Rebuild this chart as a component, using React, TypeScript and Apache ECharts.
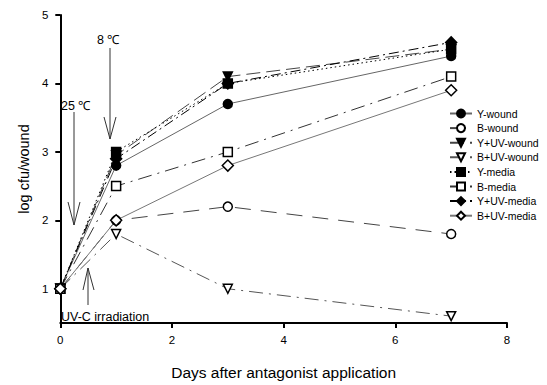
import React, { useEffect, useRef } from "react";
import * as echarts from "echarts";

const days = [0, 1, 3, 7];
const seriesNames = ["Y-wound", "B-wound", "Y+UV-wound", "B+UV-wound", "Y-media", "B-media", "Y+UV-media", "B+UV-media"];
const yWound = [1, 2.8, 3.7, 4.4];
const bWound = [1, 2.0, 2.2, 1.8];
const yUvWound = [1, 2.95, 4.1, 4.5];
const bUvWound = [1, 1.8, 1.0, 0.6];
const yMedia = [1, 3.0, 4.0, 4.5];
const bMedia = [1, 2.5, 3.0, 4.1];
const yUvMedia = [1, 2.9, 4.0, 4.6];
const bUvMedia = [1, 2.0, 2.8, 3.9];
const yTicks = [1, 2, 3, 4, 5];

const FONT = "Liberation Sans, Arial, sans-serif";
// page is offset by the 8px body margin
const O = 8;

export default function App() {
  const ref = useRef<HTMLDivElement>(null);
  useEffect(() => {
    const chart = echarts.init(ref.current!, null, { renderer: "svg" });
    const mk = (
      name: string,
      vals: number[],
      symbol: string,
      filled: boolean,
      lineType: any,
      lineColor: string,
      rotate = 0,
      size = 9
    ) => ({
      name,
      type: "line",
      data: days.map((d, i) => [d, vals[i]]),
      symbol,
      symbolSize: size,
      symbolRotate: rotate,
      showAllSymbol: true,
      itemStyle: {
        color: filled ? "#000" : "#fff",
        borderColor: "#000",
        borderWidth: 1.5,
      },
      lineStyle: { color: lineColor, width: 1, type: lineType },
      emphasis: { disabled: true },
    });
    const series = [
      mk(seriesNames[0], yWound, "circle", true, "solid", "#666"),
      mk(seriesNames[1], bWound, "circle", false, [16, 10], "#444"),
      mk(seriesNames[2], yUvWound, "triangle", true, [14, 6], "#444", 180),
      mk(seriesNames[3], bUvWound, "triangle", false, [14, 6, 2, 6], "#555", 180),
      mk(seriesNames[4], yMedia, "rect", true, [1.5, 3], "#000"),
      mk(seriesNames[5], bMedia, "rect", false, [14, 6, 2, 6], "#333"),
      mk(seriesNames[6], yUvMedia, "diamond", true, [10, 4, 2, 4], "#000", 0, 11),
      mk(seriesNames[7], bUvMedia, "diamond", false, "solid", "#777", 0, 11),
    ];
    const lineStyle = { stroke: "#333", lineWidth: 1 };
    const P = (x: number, y: number) => [x - O, y - O];
    chart.setOption({
      animation: false,
      textStyle: { fontFamily: FONT },
      grid: { left: 47, right: 40, top: 7, bottom: 53, containLabel: false },
      xAxis: {
        type: "value",
        min: 0,
        max: 8,
        interval: 2,
        name: "Days after antagonist application",
        nameLocation: "middle",
        nameGap: 41,
        nameTextStyle: { fontSize: 15.5, color: "#000", fontFamily: FONT },
        axisLine: { lineStyle: { color: "#000", width: 2 } },
        axisTick: { show: true, length: 5, lineStyle: { color: "#000", width: 2 } },
        axisLabel: { fontSize: 11.5, color: "#000", margin: 11, fontFamily: FONT },
        splitLine: { show: false },
      },
      yAxis: {
        type: "value",
        min: 0.5,
        max: 5,
        name: "log cfu/wound",
        nameLocation: "middle",
        nameGap: 28,
        nameRotate: 90,
        nameTextStyle: { fontSize: 14.5, color: "#000", fontFamily: FONT },
        axisLine: { show: true, lineStyle: { color: "#000", width: 2 } },
        axisTick: { show: true, length: 5, customValues: yTicks, lineStyle: { color: "#000", width: 2 } },
        axisLabel: { fontSize: 11.5, color: "#000", margin: 12, customValues: yTicks, fontFamily: FONT },
        splitLine: { show: false },
      },
      legend: {
        orient: "vertical",
        left: 444 - O,
        top: 95,
        padding: [5, 0, 5, 5],
        itemWidth: 22,
        itemHeight: 10,
        itemGap: 3.6,
        data: seriesNames,
        textStyle: { fontSize: 10.5, color: "#000", fontFamily: FONT, overflow: "none" },
        selectedMode: false,
      },
      graphic: [
        { type: "text", x: 97 - O, y: 40 - O, style: { text: "8 ℃", font: `12.5px ${FONT}`, fill: "#000", verticalAlign: "middle" } },
        { type: "line", shape: { x1: 110 - O, y1: 48 - O, x2: 110 - O, y2: 139 - O }, style: lineStyle },
        { type: "polyline", shape: { points: [P(104, 117), P(110, 139), P(116, 117)] }, style: { ...lineStyle, fill: null } },
        { type: "text", x: 61 - O, y: 106 - O, style: { text: "25 ℃", font: `12.5px ${FONT}`, fill: "#000", verticalAlign: "middle" } },
        { type: "line", shape: { x1: 74 - O, y1: 112 - O, x2: 74 - O, y2: 225 - O }, style: lineStyle },
        { type: "polyline", shape: { points: [P(68, 202), P(74, 225), P(80, 202)] }, style: { ...lineStyle, fill: null } },
        { type: "line", shape: { x1: 88 - O, y1: 268 - O, x2: 88 - O, y2: 305 - O }, style: lineStyle },
        { type: "polyline", shape: { points: [P(83, 290), P(88, 268), P(94, 290)] }, style: { ...lineStyle, fill: null } },
        { type: "text", x: 61 - O, y: 317 - O, style: { text: "UV-C irradiation", font: `12.5px ${FONT}`, fill: "#000", verticalAlign: "middle" } },
      ],
      series,
    });
    return () => chart.dispose();
  }, []);
  return <div ref={ref} style={{ width: 539, height: 377 }} />;
}
